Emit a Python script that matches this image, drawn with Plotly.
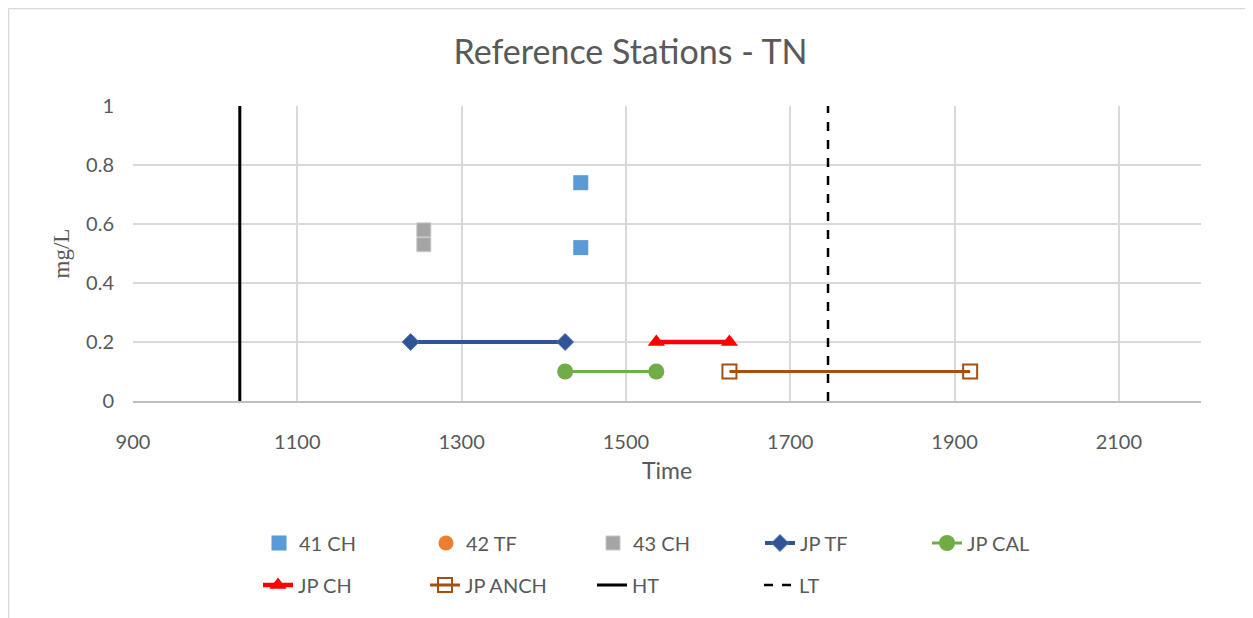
import plotly.graph_objects as go

# ---- data ----
ch41_x = [1445, 1445]
ch41_y = [0.74, 0.52]
tf42_x = [None]
tf42_y = [None]
ch43_x = [1254, 1254]
ch43_y = [0.58, 0.53]
jptf_x = [1238, 1426]
jptf_y = [0.2, 0.2]
jpcal_x = [1426, 1537]
jpcal_y = [0.1, 0.1]
jpch_x = [1537, 1626]
jpch_y = [0.2, 0.2]
jpanch_x = [1626, 1919]
jpanch_y = [0.1, 0.1]
ht_x = [1030, 1030]
ht_y = [0, 1]
lt_x = [1746, 1746]
lt_y = [0, 1]

FONT = "Lato"
GREY = "#595959"

fig = go.Figure()
fig.add_trace(go.Scatter(x=ch41_x, y=ch41_y, mode="markers", name="41 CH",
                         marker=dict(symbol="square", size=15, color="#5B9BD5"), legend="legend"))
fig.add_trace(go.Scatter(x=tf42_x, y=tf42_y, mode="markers", name="42 TF",
                         marker=dict(symbol="circle", size=15, color="#ED7D31"), legend="legend"))
fig.add_trace(go.Scatter(x=ch43_x, y=ch43_y, mode="markers", name="43 CH",
                         marker=dict(symbol="square", size=14, color="#A5A5A5",
                                     line=dict(color="#C8C8C8", width=1)), legend="legend"))
fig.add_trace(go.Scatter(x=jptf_x, y=jptf_y, mode="lines+markers", name="JP TF",
                         line=dict(color="#2F5597", width=4),
                         marker=dict(symbol="diamond", size=13, color="#2F5597",
                                     line=dict(color="#4472C4", width=1)), legend="legend"))
fig.add_trace(go.Scatter(x=jpcal_x, y=jpcal_y, mode="lines+markers", name="JP CAL",
                         line=dict(color="#70AD47", width=3),
                         marker=dict(symbol="circle", size=16, color="#70AD47"), legend="legend"))
fig.add_trace(go.Scatter(x=jpch_x, y=jpch_y, mode="lines+markers", name="JP CH",
                         line=dict(color="#FF0000", width=4.5),
                         marker=dict(symbol="triangle-up", size=15, color="#FF0000"), legend="legend2"))
fig.add_trace(go.Scatter(x=jpanch_x, y=jpanch_y, mode="lines+markers", name="JP ANCH",
                         line=dict(color="#A5500F", width=3),
                         marker=dict(symbol="square-open", size=14, color="#A5500F",
                                     line=dict(width=2)), legend="legend2"))
fig.add_trace(go.Scatter(x=ht_x, y=ht_y, mode="lines", name="HT",
                         line=dict(color="black", width=3), legend="legend2"))
fig.add_trace(go.Scatter(x=lt_x, y=lt_y, mode="lines", name="LT",
                         line=dict(color="black", width=2.5, dash="dash"), legend="legend2"))

# page has an 8px body margin; figure coords = page coords - 8
W, H = 1245, 610
L, R, T, B = 125, 52, 98, 217
pw, ph = W - L - R, H - T - B

def px_x(p):
    return (p - L) / pw

def px_y(p):
    return (H - B - p) / ph

legend_common = dict(orientation="h", xanchor="left", yanchor="middle",
                     font=dict(family=FONT, size=20, color=GREY),
                     entrywidth=122, entrywidthmode="pixels",
                     bgcolor="rgba(0,0,0,0)", itemsizing="trace")

fig.update_layout(
    width=W, height=H,
    margin=dict(l=L, r=R, t=T, b=B),
    paper_bgcolor="white", plot_bgcolor="white",
    title=dict(text="Reference Stations - TN", x=0.5, xanchor="center",
               y=1 - 44 / H, yanchor="middle",
               font=dict(family=FONT, size=34, color=GREY)),
    xaxis=dict(range=[900, 2200], tick0=900, dtick=200, showgrid=True,
               gridcolor="#D9D9D9", gridwidth=1.5, showline=True, linecolor="#BFBFBF",
               linewidth=1.5, zeroline=False, ticks="", ticklabelstandoff=22,
               tickfont=dict(family=FONT, size=20, color=GREY),
               title=dict(text="Time", font=dict(family=FONT, size=23, color=GREY), standoff=11)),
    yaxis=dict(range=[0, 1], dtick=0.2, showgrid=True, gridcolor="#D9D9D9",
               gridwidth=1.5, zeroline=False, showline=False, ticks="", ticklabelstandoff=18,
               tickfont=dict(family=FONT, size=20, color=GREY),
               title=dict(text="mg/L", font=dict(family="Liberation Serif", size=23, color=GREY),
                          standoff=10)),
    legend=dict(x=px_x(251), y=px_y(535), **legend_common),
    legend2=dict(x=px_x(250), y=px_y(577), **legend_common),
    showlegend=True,
    shapes=[
        dict(type="line", xref="paper", yref="paper", x0=px_x(0.5), x1=px_x(W + 5),
             y0=px_y(0.5), y1=px_y(0.5), line=dict(color="#D9D9D9", width=1.5)),
        dict(type="line", xref="paper", yref="paper", x0=px_x(0.5), x1=px_x(0.5),
             y0=px_y(0.5), y1=px_y(H + 5), line=dict(color="#D9D9D9", width=1.5)),
    ],
)

fig.write_html("out.html")
